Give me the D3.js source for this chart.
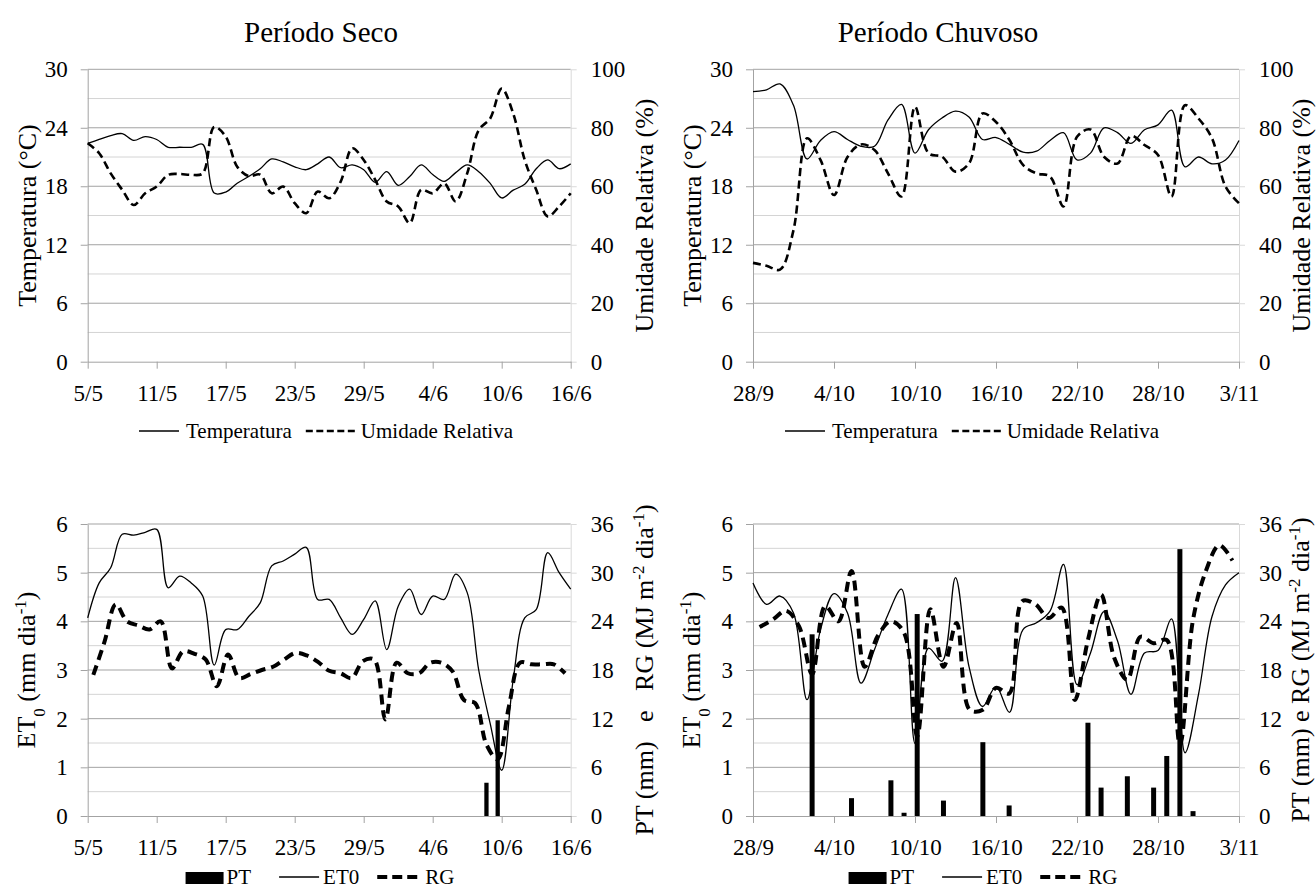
<!DOCTYPE html>
<html><head><meta charset="utf-8">
<script src="https://cdn.jsdelivr.net/npm/d3@7"></script>
<style>
body{margin:0;background:#fff}
svg{display:block}
svg text{font-family:'Liberation Serif','Times New Roman','DejaVu Serif',serif;fill:#000}
</style>
</head><body>
<svg id="c" width="1316" height="896"></svg>
<script>
// ---------- DATA ----------
const secoTicks = ["5/5","11/5","17/5","23/5","29/5","4/6","10/6","16/6"];
const chuvosoTicks = ["28/9","4/10","10/10","16/10","22/10","28/10","3/11"];

// Período Seco (5/5 – 16/6, daily)
const tempSeco = [22.4,22.8,23.2,23.4,22.7,23.1,22.8,22.0,22.0,22.0,22.3,17.3,17.4,18.3,19.0,19.8,20.8,20.5,20.0,19.7,20.3,21.0,19.9,20.2,19.7,18.4,19.5,18.1,19.0,20.2,19.2,18.5,19.4,20.2,19.5,18.3,16.8,17.6,18.2,19.8,20.7,19.8,20.3];
const urSeco = [74.7,71.3,64.4,58.8,53.6,57.6,59.9,63.9,64.2,63.9,64.4,80.3,77.0,66.7,63.5,64.0,57.6,59.9,54.2,50.8,58.2,55.9,61.6,73.0,69.0,62.2,54.8,53.1,47.4,58.8,57.6,61.0,54.8,64.4,79.2,83.2,93.4,84.9,69.0,58.8,49.7,53.1,57.6];
const et0Seco = [4.07,4.79,5.10,5.79,5.77,5.83,5.89,4.69,4.93,4.79,4.52,3.10,3.83,3.83,4.10,4.38,5.14,5.24,5.38,5.52,4.45,4.45,4.07,3.73,4.04,4.42,3.42,4.31,4.66,4.14,4.52,4.45,4.97,4.59,3.00,1.90,0.94,2.80,4.07,4.24,5.41,5.00,4.66];
const rgSeco = [17.4,21.5,26.1,24.0,23.5,23.0,24.0,18.2,20.3,20.0,19.3,16.0,19.9,17.0,17.5,18.0,18.4,19.3,20.1,19.8,19.0,17.9,17.6,17.0,19.1,19.3,11.9,18.9,17.6,17.6,18.9,18.9,17.8,14.3,13.9,8.8,7.0,13.5,18.9,18.7,18.7,18.7,17.6];
const ptSeco = [0,0,0,0,0,0,0,0,0,0,0,0,0,0,0,0,0,0,0,0,0,0,0,0,0,0,0,0,0,0,0,0,0,0,0,4.1,11.8,0,0,0,0,0,0];

// Período Chuvoso (28/9 – 3/11, daily)
const tempChuvoso = [27.7,27.9,28.5,26.3,20.8,22.7,23.6,22.8,22.1,22.1,24.8,26.4,21.4,23.8,25.0,25.7,25.1,22.8,23.0,22.3,21.5,21.6,22.7,23.5,20.7,21.4,24.0,23.5,22.4,23.8,24.3,25.8,20.0,21.0,20.3,20.7,22.7];
const urChuvoso = [33.8,32.8,31.5,45.0,76.4,69.0,57.0,70.0,74.3,72.4,64.4,56.5,87.2,71.3,70.1,65.0,67.8,84.9,82.0,75.8,67.3,64.4,63.3,53.1,76.9,79.4,70.1,67.8,77.2,74.1,70.7,56.5,87.7,83.2,76.4,59.9,54.2];
const et0Chuvoso = [4.79,4.35,4.52,4.17,2.39,3.83,4.57,4.17,2.73,3.42,4.14,4.66,1.49,3.45,3.18,4.90,3.07,2.25,2.66,2.13,3.83,3.97,4.21,5.17,2.70,3.35,4.20,3.60,2.50,3.35,3.40,4.05,1.30,2.50,4.10,4.75,5.00];
const rgChuvoso = [23.3,24.2,25.3,23.4,17.5,25.9,24.0,30.2,18.4,22.2,24.0,22.6,9.8,25.5,18.4,23.8,13.1,13.1,15.8,15.1,26.5,26.1,24.4,25.7,14.3,21.7,27.3,19.5,16.8,22.1,21.3,21.7,8.8,24.2,30.3,33.4,31.5];
const ptChuvoso = [0,0,0,0,22.4,0,0,2.2,0,0,4.4,0.4,24.9,0,1.9,0,0,9.1,0,1.3,0,0,0,0,0,11.5,3.5,0,4.9,0,3.5,7.4,32.9,0.6,0,0,0];

// ---------- DRAWING ----------
const FONT = "'Liberation Serif','Times New Roman','DejaVu Serif',serif";
const svg = d3.select("#c");
const MAJOR = "#a3a3a3", MINOR = "#d4d4d4", RAXIS = "#d9d9d9";
const TICKFS = 23, TITLEFS = 26, LEGFS = 21;
const smooth = d3.curveCatmullRom.alpha(0.5);
const fmt = d3.format("d");

function styleAxis(g, color) {
  g.attr("font-family", FONT).attr("font-size", TICKFS);
  g.select(".domain").attr("stroke", color);
  g.selectAll(".tick line").attr("stroke", color);
  g.selectAll(".tick text").style("font-family", FONT).attr("fill", "#000");
}

function rotTitle(x, y, parts) {
  const t = svg.append("text")
    .attr("transform", `translate(${x},${y}) rotate(-90)`)
    .attr("text-anchor", "middle").attr("dy", "0.35em")
    .style("font-family", FONT).attr("font-size", TITLEFS)
    .style("white-space", "pre");
  parts.forEach(p => {
    const s = t.append("tspan").text(p.t);
    if (p.sub) s.attr("baseline-shift", "sub").attr("font-size", 17);
    if (p.sup) s.attr("baseline-shift", "super").attr("font-size", 17);
  });
  return t;
}

function xAxis(g, x, n, labels, yb) {
  const ax = g.append("g").attr("transform", `translate(0,${yb})`)
    .call(d3.axisBottom(x).tickValues(d3.range(0, n, 6))
      .tickFormat((d, i) => labels[i]).tickSize(7).tickSizeOuter(0).tickPadding(16));
  styleAxis(ax, MAJOR);
}

// legend laid out from measured text widths, centred at cx
function legend(cx, y, items) {
  const lg = svg.append("g");
  let pos = 0;
  const placed = [];
  items.forEach(it => {
    pos += it.gapBefore || 0;
    if (it.type === "text") {
      const t = lg.append("text").attr("y", y + 7).style("font-family", FONT)
        .attr("font-size", LEGFS).text(it.label);
      const w = t.node().getComputedTextLength();
      placed.push({el: t, x: pos, kind: "text"});
      pos += w;
    } else {
      let el;
      if (it.type === "rect") {
        el = lg.append("rect").attr("y", y - 5).attr("width", it.len).attr("height", 12).attr("fill", "#000");
      } else {
        el = lg.append("line").attr("y1", y).attr("y2", y).attr("stroke", "#000")
          .attr("stroke-width", it.sw).attr("stroke-dasharray", it.dash || null);
      }
      placed.push({el, x: pos, kind: it.type, len: it.len});
      pos += it.len;
    }
  });
  const x0 = cx - pos / 2;
  placed.forEach(p => {
    if (p.kind === "text" || p.kind === "rect") p.el.attr("x", x0 + p.x);
    else p.el.attr("x1", x0 + p.x).attr("x2", x0 + p.x + p.len);
  });
}

function topPanel(o) {
  const g = svg.append("g");
  const n = o.temp.length;
  const x = d3.scaleLinear().domain([0, n - 1]).range([o.x0, o.x1]);
  const yL = d3.scaleLinear().domain([0, 30]).range([o.yb, o.yt]);
  const yR = d3.scaleLinear().domain([0, 100]).range([o.yb, o.yt]);
  g.selectAll(null).data(d3.range(3, 31, 3)).join("line")
    .attr("x1", o.x0).attr("x2", o.x1)
    .attr("y1", d => yL(d)).attr("y2", d => yL(d))
    .attr("stroke", d => d % 6 === 0 ? MAJOR : MINOR);
  const axL = g.append("g").attr("transform", `translate(${o.x0},0)`)
    .call(d3.axisLeft(yL).tickValues(d3.range(0, 31, 6)).tickFormat(fmt).tickSize(7).tickSizeOuter(0).tickPadding(13));
  styleAxis(axL, MAJOR);
  const axR = g.append("g").attr("transform", `translate(${o.x1},0)`)
    .call(d3.axisRight(yR).tickValues(d3.range(0, 101, 20)).tickFormat(fmt).tickSize(6).tickSizeOuter(0).tickPadding(14));
  styleAxis(axR, RAXIS);
  xAxis(g, x, n, o.ticks, o.yb);
  g.append("path").datum(o.temp)
    .attr("d", d3.line().x((d, i) => x(i)).y(d => yL(d)).curve(smooth))
    .attr("fill", "none").attr("stroke", "#000").attr("stroke-width", 1.3);
  g.append("path").datum(o.ur)
    .attr("d", d3.line().x((d, i) => x(i)).y(d => yR(d)).curve(smooth))
    .attr("fill", "none").attr("stroke", "#000").attr("stroke-width", 2.6)
    .attr("stroke-dasharray", "8,4.5");
  svg.append("text").attr("x", o.titleX).attr("y", 42).attr("text-anchor", "middle")
    .style("font-family", FONT).attr("font-size", 29).text(o.title);
  rotTitle(o.x0 - 61, (o.yt + o.yb) / 2, [{t: "Temperatura (°C)"}]);
  rotTitle(o.x1 + o.rOff, (o.yt + o.yb) / 2, [{t: "Umidade Relativa (%)"}]);
  legend(o.legX, 431, [
    {type: "line", len: 40, sw: 1.3},
    {type: "text", label: "Temperatura", gapBefore: 7},
    {type: "line", len: 52, sw: 2.6, dash: "7,3.5", gapBefore: 14},
    {type: "text", label: "Umidade Relativa", gapBefore: 3}
  ]);
}

function bottomPanel(o) {
  const g = svg.append("g");
  const n = o.et0.length;
  const x = d3.scaleLinear().domain([0, n - 1]).range([o.x0, o.x1]);
  const xb = d3.scaleBand().domain(d3.range(n)).range([o.x0, o.x1]).paddingInner(0.62).paddingOuter(0.31);
  const yL = d3.scaleLinear().domain([0, 6]).range([o.yb, o.yt]);
  const yR = d3.scaleLinear().domain([0, 36]).range([o.yb, o.yt]);
  g.selectAll(null).data(d3.range(1, 13).map(d => d / 2)).join("line")
    .attr("x1", o.x0).attr("x2", o.x1)
    .attr("y1", d => yL(d)).attr("y2", d => yL(d))
    .attr("stroke", d => Number.isInteger(d) ? MAJOR : MINOR);
  g.selectAll(null).data(o.pt).join("rect")
    .attr("x", (d, i) => xb(i)).attr("width", xb.bandwidth())
    .attr("y", d => yR(d)).attr("height", d => yR(0) - yR(d))
    .attr("fill", "#000");
  const axL = g.append("g").attr("transform", `translate(${o.x0},0)`)
    .call(d3.axisLeft(yL).tickValues(d3.range(0, 7, 1)).tickFormat(fmt).tickSize(7).tickSizeOuter(0).tickPadding(13));
  styleAxis(axL, MAJOR);
  const axR = g.append("g").attr("transform", `translate(${o.x1},0)`)
    .call(d3.axisRight(yR).tickValues(d3.range(0, 37, 6)).tickFormat(fmt).tickSize(6).tickSizeOuter(0).tickPadding(14));
  styleAxis(axR, RAXIS);
  xAxis(g, x, n, o.ticks, o.yb);
  g.append("path").datum(o.et0)
    .attr("d", d3.line().x((d, i) => x(i)).y(d => yL(d)).curve(smooth))
    .attr("fill", "none").attr("stroke", "#000").attr("stroke-width", 1.3);
  g.append("path").datum(o.rg)
    .attr("d", d3.line().x((d, i) => xb(i) + xb.bandwidth() / 2).y(d => yR(d)).curve(smooth))
    .attr("fill", "none").attr("stroke", "#000").attr("stroke-width", 4)
    .attr("stroke-dasharray", "10,6");
  rotTitle(o.x0 - 62, (o.yt + o.yb) / 2,
    [{t: "ET"}, {t: "0", sub: true}, {t: " (mm dia"}, {t: "-1", sup: true}, {t: ")"}]);
  rotTitle(o.x1 + o.rOff, (o.yt + o.yb) / 2,
    [{t: o.rtitle}, {t: "-2", sup: true}, {t: " dia"}, {t: "-1", sup: true}, {t: ")"}]);
  legend(o.legX, 877, [
    {type: "rect", len: 38},
    {type: "text", label: "PT", gapBefore: 3},
    {type: "line", len: 40, sw: 1.3, gapBefore: 28},
    {type: "text", label: "ET0", gapBefore: 4},
    {type: "line", len: 42, sw: 4, dash: "10,5", gapBefore: 18},
    {type: "text", label: "RG", gapBefore: 6}
  ]);
}

topPanel({x0: 87.7, x1: 570.7, yt: 69.3, yb: 361.7, temp: tempSeco, ur: urSeco,
  ticks: secoTicks, title: "Período Seco", titleX: 321, rOff: 73, legX: 326});
topPanel({x0: 753, x1: 1239, yt: 69.3, yb: 361.7, temp: tempChuvoso, ur: urChuvoso,
  ticks: chuvosoTicks, title: "Período Chuvoso", titleX: 938, rOff: 62, legX: 972});
bottomPanel({x0: 87.7, x1: 570.7, yt: 524, yb: 816, et0: et0Seco, rg: rgSeco, pt: ptSeco,
  ticks: secoTicks, rtitle: "PT (mm)   e   RG (MJ m", rOff: 73, legX: 320});
bottomPanel({x0: 753, x1: 1239, yt: 524, yb: 816, et0: et0Chuvoso, rg: rgChuvoso, pt: ptChuvoso,
  ticks: chuvosoTicks, rtitle: "PT (mm) e RG (MJ m", rOff: 61, legX: 983});
</script>
</body></html>
